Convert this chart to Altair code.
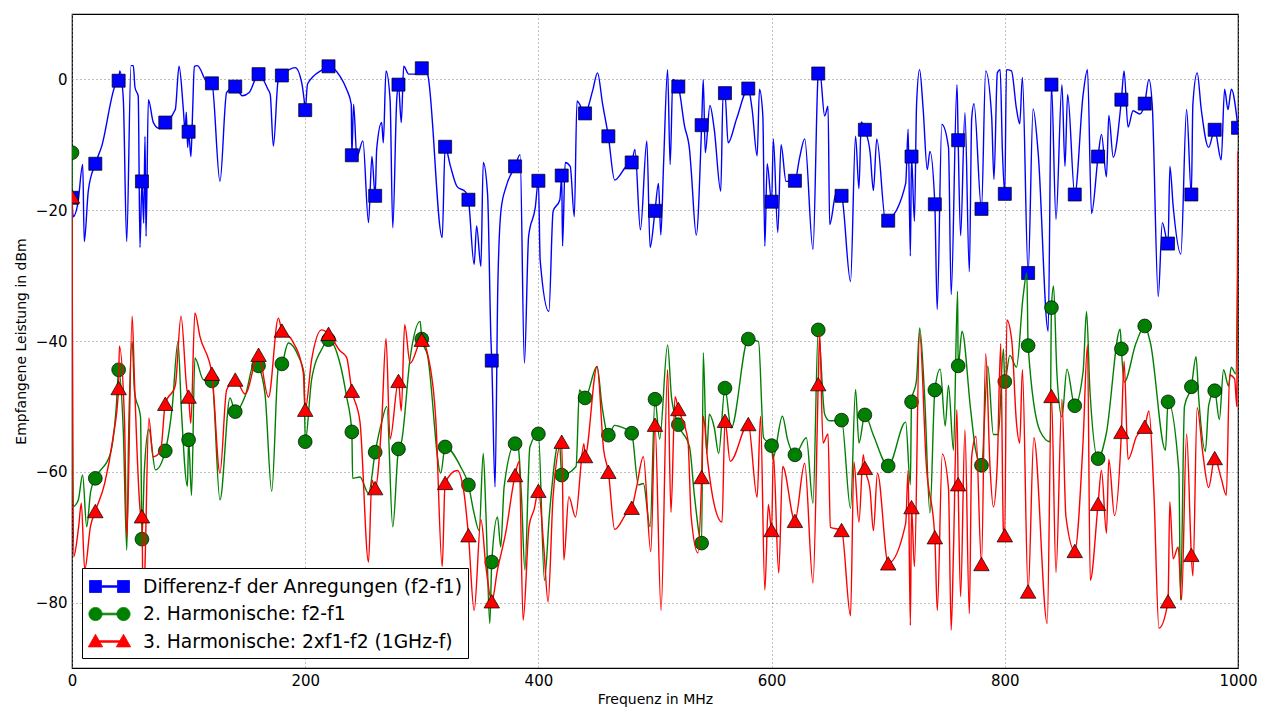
import altair as alt
import pandas as pd

SERIES = ["Differenz-f der Anregungen (f2-f1)", "2. Harmonische: f2-f1", "3. Harmonische: 2xf1-f2 (1GHz-f)"]
COLORS = ["#0000ff", "#008000", "#ff0000"]

MARK_F = [0, 20, 40, 60, 80, 100, 120, 140, 160, 180, 200, 220, 240, 260, 280, 300, 320, 340, 360, 380,
          400, 420, 440, 460, 480, 500, 520, 540, 560, 580, 600, 620, 640, 660, 680, 700, 720, 740, 760, 780,
          800, 820, 840, 860, 880, 900, 920, 940, 960, 980, 1000]

BLUE_M = [-18.1, -12.9, -0.2, -15.6, -6.6, -8.0, -0.6, -1.1, 0.8, 0.6,
          -4.7, 2.0, -11.6, -17.8, -0.8, 1.7, -10.3, -18.4, -43.0, -13.3,
          -15.5, -14.7, -5.2, -8.7, -12.7, -20.1, -1.1, -7.0, -2.1, -1.4,
          -18.7, -15.5, 0.9, -17.8, -7.7, -21.6, -11.8, -19.1, -9.3, -19.8,
          -17.5, -29.6, -0.8, -17.6, -11.8, -3.1, -3.7, -25.1, -17.6, -7.7, -7.4]

GREEN_M = [-11.2, -61.0, -44.4, -70.3, -56.8, -55.1, -46.1, -50.8, -43.8, -43.5,
           -55.4, -39.8, -53.9, -57.0, -56.5, -39.7, -56.2, -62.0, -73.8, -55.7,
           -54.2, -60.5, -48.7, -54.4, -54.1, -48.9, -52.8, -70.9, -47.2, -39.7,
           -56.0, -57.4, -38.3, -52.1, -51.3, -59.1, -49.3, -47.5, -43.8, -59.0,
           -46.2, -40.7, -34.9, -49.9, -58.0, -41.2, -37.7, -49.3, -47.0, -47.6]

RED_M = [-17.9, -66.0, -47.2, -66.8, -49.6, -48.5, -45.0, -45.9, -42.1, -38.4,
         -50.5, -38.9, -47.6, -62.5, -46.1, -39.8, -61.7, -69.7, -79.8, -60.5,
         -62.9, -55.4, -57.6, -60.0, -65.5, -52.8, -50.4, -60.8, -52.2, -52.7,
         -68.9, -67.5, -46.6, -68.9, -59.4, -74.0, -65.4, -70.0, -61.9, -74.1,
         -69.7, -78.3, -48.4, -72.1, -64.9, -53.9, -53.1, -79.8, -72.7, -57.9]

BLUE_LINE = [(1, -21), (5, -19), (9.2, -13.0), (10.5, -24.8), (14, -17), (25.5, -10.2), (36.9, -1.0), (41, 1.3),
             (44, -3), (46.9, -24.8), (50.6, 2.1), (52.6, 2.1), (54, -1.2), (56.8, -2.6), (58.3, -25.7),
             (61.5, -22), (62.6, -8.7), (63.5, -24), (65.5, -3.1), (69.8, -6.6), (75, -7.5), (88.6, -4.6),
             (91.8, 2.0), (95.5, -4.6), (97, -8), (98, -5), (99.2, -10.4), (102, -11.8), (103.5, -4.6),
             (104.9, 2.0), (107.5, 2.1), (115.4, -0.3), (126.9, -15.6), (132.6, -2.0), (146, -2.5), (152, -2.0),
             (168, -1.5), (170, -2.3), (172.7, -10.2), (176.9, 0.0), (191.5, 1.8), (197, -0.5), (199, -3),
             (202, -0.7), (215, 1.5), (229.8, 0.5), (235.5, -1.5), (239.5, -3.8), (241.5, -3.8), (244.3, -11.8),
             (249.5, -9.4), (254.3, -21.9), (257.2, -11.8), (261.3, -10.7), (265.6, -6.6), (267, -9.7),
             (269.3, 1.3), (272.8, -3.1), (275.1, -22.7), (278.5, -3.1), (282.4, -6.6), (284.5, 2.0),
             (288.8, 0.8), (295, 0.8), (304.9, 0.8), (317.5, -24.2), (324.6, -13.3), (330.3, -16.4),
             (337.5, -17.2), (344.9, -28.3), (347, -22.4), (350.7, -28.6), (352.7, -12.7), (356.4, -17.5),
             (359.3, -39.8), (362.8, -62.3), (365.2, -31.6), (368, -19.9), (372.3, -16.4), (384.3, -11.5),
             (388, -43.4), (391.6, -24), (397.3, -19.6), (401.5, -27.6), (409, -35.5), (412.6, -20.2),
             (418.4, -18.4), (420.7, -25.5), (423, -12.7), (427.3, -13.3), (430.8, -21), (433.1, -3.3),
             (446.4, -1.8), (450.7, 1.0), (455, -3.7), (465.4, -15.4), (475.4, -13.3), (482.8, -10.7),
             (487.5, -23), (493, -9.4), (495.8, -25.7), (503, -15.9), (505, -23.8), (507.4, -12.7),
             (510.8, 1.5), (513, -13), (515.3, 0), (525.3, -7.1), (529.6, -10.7), (531, -13.8), (535.4, -23.8),
             (541.4, 0.0), (543.1, -11.2), (547.1, -4), (550.8, -7.6), (556.4, -17.1), (558.4, -2.1),
             (562.7, -9.7), (570, -6), (583.3, -4.6), (587.6, -11.7), (589.6, -1.5), (592.5, -5.6),
             (594.2, -25.5), (596.2, -12.9), (601.5, -9.1), (605.3, -23.4), (608.1, -10), (612.4, -15.6),
             (624, -12), (628.4, -9.1), (635.5, -26), (641.2, 1.5), (645.5, -5.6), (648.4, -4.1), (649.8, -22.2),
             (655.5, -17.3), (667.7, -30.9), (672, -8.7), (674.9, -16.7), (676.9, -6.5), (684.5, -11.2),
             (687.3, -17), (690.2, -9.1), (697.9, -21.8), (715, -15.9), (717.1, -7.6), (719, -27),
             (722.5, -21.7), (724.3, -4), (726.9, 1.5), (730, -4.6), (733.5, -13.8), (735.8, -11), (742, -35.2),
             (746, -6.9), (751.7, -10.4), (754, -32.9), (759, -0.8), (762.1, -23.9), (765.8, -5.1),
             (769.6, -29.4), (771.6, -6), (773.6, -3.7), (783.6, 1.3), (788.7, -5.6), (790.7, -15.3),
             (793.6, 1.0), (796, 1.5), (798, -11.2), (801.4, 1.5), (805.7, 1.3), (810, -4.5), (812.8, -6.8),
             (815.1, 0.3), (824.3, -4.5), (828.6, -11.2), (837.2, -38.5), (843.9, -21.4), (849, -0.8),
             (851.6, -13.3), (853.9, -2.3), (867.2, -2.3), (870.9, 1.5), (874.4, -20.5), (882.9, -8.4),
             (887.2, -14.9), (889.2, -5.5), (893, -11.9), (902.3, 1.3), (905.7, -7.3), (910, -4.8),
             (915.7, -5.3), (923.6, 0), (926.5, -4.1), (931.6, -33.2), (935.1, -21.9), (941.6, -13.3),
             (944.4, -19.4), (951, -26.7), (955.9, -4.6), (961.3, -3.8), (965, 1.0), (968.5, -4.6),
             (974.8, -10.4), (985.6, -12.3), (988.5, -1.5), (991.4, -4.6), (994.3, -1.5)]

GREEN_LINE = [(0.5, -60), (1, -65.3), (5.4, -64.3), (9.1, -60.5), (12.6, -68.4), (16, -63), (32.6, -57.4),
              (38, -50), (44, -53.8), (47, -72), (48.5, -55), (51.6, -40.1), (53.6, -47.7), (58.8, -51.7),
              (62, -60), (65.9, -53.5), (71.6, -59.7), (86, -50), (90.9, -40.1), (93.8, -50.5), (99, -62.2),
              (102.5, -63.6), (105.4, -42.6), (112.6, -45.9), (126.9, -64.3), (135.5, -48.7), (148.5, -48.4),
              (157, -43), (165.6, -48.2), (171.3, -63.0), (177, -44), (185.5, -40.3), (194.1, -42.3),
              (199, -45), (205.5, -45.9), (215, -41), (229.8, -43.4), (235.5, -48.5), (240.7, -61),
              (247, -60.8), (254.3, -63.3), (265.6, -52.4), (270, -50), (275.1, -68.4), (282.7, -55.3),
              (290, -42.6), (298.6, -37), (304.9, -42.2), (316.3, -60.2), (333.2, -59.2), (344.9, -66.4),
              (349.2, -69), (352.7, -57.2), (355, -66.4), (358.3, -83.2), (364.9, -66.9), (367.7, -71.5),
              (370.6, -62.3), (382.7, -56.2), (385.5, -63.8), (388.4, -75), (392.7, -56.2), (405.2, -76.6),
              (409.5, -66.4), (418, -55.2), (432.3, -59.2), (435.2, -47.5), (450.3, -43.9), (454.6, -50),
              (465.4, -52.9), (470, -53.1), (485.7, -62), (490, -61.8), (495.8, -68.4), (504, -55),
              (510.8, -40.6), (514.2, -48.7), (529.6, -56.2), (533.9, -63.8), (541.4, -41.8), (544.3, -57.2),
              (546.6, -51.2), (550.9, -53.3), (554.6, -57.2), (565.3, -53.3), (588.8, -40.1), (593.1, -54.8),
              (601, -58), (609.3, -51.5), (613.6, -55), (629.8, -54.8), (635.5, -64.8), (645.5, -51.2),
              (649.8, -52.2), (667.7, -65.6), (672, -47.4), (674.9, -55.6), (687.3, -54.4), (715, -52.4),
              (719, -62), (724.3, -45.9), (727, -38), (731.3, -48.7), (735.8, -66.3), (744.6, -44.3),
              (748.9, -53), (751.7, -46.8), (756, -56.7), (759.5, -32.4), (763.3, -38.5), (770.7, -50.5),
              (775, -56.7), (785.4, -43.8), (790.2, -54.3), (794.5, -54.3), (798.8, -41.2), (804.3, -42.2),
              (810, -44), (815.7, -33.2), (818.9, -29.6), (830.3, -53.8), (838.9, -55.4), (841.8, -31.6),
              (844.7, -45), (849, -51.6), (853.3, -44.3), (867.2, -44.6), (870.1, -35.5), (873, -47.5),
              (886.9, -54.3), (899, -38.2), (902.4, -46.3), (912.4, -40.4), (924.9, -40.3), (937.8, -56.7),
              (949.3, -60), (950.7, -79.6), (954.1, -50), (964, -42.4), (966.3, -48.7), (972, -56.9),
              (974.9, -49.8), (984, -52), (987.6, -44.4), (991.9, -46.9), (994.2, -44), (998, -45), (1000, -26)]

RED_LINE = [(1.4, -73), (5.7, -68.4), (8, -64.8), (10.9, -75), (15.8, -68.4), (28, -61.8), (35, -55),
            (40.6, -40.8), (45, -52), (47, -70), (51.6, -36.2), (53.6, -46.3), (58.8, -66.3), (61, -82),
            (62.5, -75), (65.9, -51.8), (69.6, -57.7), (76, -56.8), (88.6, -46.8), (93.5, -36.2), (98.6, -47.5),
            (101.9, -52.6), (105.4, -35.7), (109.7, -39.3), (126.9, -60.2), (132.6, -47.5), (148.5, -48.1),
            (168.5, -48.6), (177, -36.5), (188.4, -39.8), (198.4, -44.9), (205.5, -42.9), (214.1, -38.3),
            (229.8, -41.5), (235.5, -42.5), (247, -52.4), (254.3, -73.8), (257.2, -61.3), (265.6, -52.4),
            (269.3, -39.6), (272.8, -55), (282.4, -50.7), (285.3, -37.5), (290, -43.4), (305, -42), (312, -52),
            (317.5, -74.5), (330.3, -59.8), (336, -63), (344.9, -81.2), (350.7, -67.3), (355, -74.5),
            (364.9, -75), (372, -69.3), (383.5, -58.4), (386.9, -82.7), (392, -68.3), (396.4, -65.7),
            (404.6, -71.4), (408.3, -79.9), (412.6, -63.8), (421.8, -73.5), (426.1, -63.8), (431.8, -66.9),
            (439, -55.7), (450.3, -43.9), (456, -56.7), (465.4, -68.8), (475.4, -66.4), (484, -62.5),
            (490, -57.7), (496.4, -72.2), (505.2, -81.2), (510.8, -44.4), (513.7, -66.2), (517.2, -48.5),
            (528.2, -55.1), (531, -66.8), (536.8, -72.4), (541.4, -51.5), (545.2, -58.4), (550.9, -65.1),
            (557.5, -67.7), (564.5, -58.4), (587.6, -63.9), (590.5, -51.5), (594.2, -78.1), (597.2, -65),
            (601.5, -57.2), (606.1, -75.5), (609.5, -59.2), (628.4, -58.7), (635.5, -77), (641.2, -38.8),
            (644.1, -55.6), (648.4, -54.2), (650.4, -68.5), (667.7, -82), (670.6, -58.5), (674.9, -67.7),
            (678.6, -57.4), (684.5, -62.9), (687.3, -69), (690.8, -60.2), (715, -67.9), (717.1, -59.8),
            (719, -83.5), (722.5, -74.5), (726.9, -38.8), (732.7, -59), (742.1, -81.2), (746.4, -57.3),
            (751.7, -62.5), (754, -84.2), (756, -72), (758.9, -50.5), (762.1, -79.1), (765.8, -53.6),
            (769.6, -81.7), (771.6, -57.7), (775.3, -54.6), (783.6, -41.9), (787.3, -59.2), (790.2, -65.4),
            (793.6, -58.6), (796.5, -40.4), (798.8, -68.9), (801.7, -36.8), (806, -40), (810, -52.5),
            (812.8, -55.6), (815.1, -44.4), (824.9, -54.8), (836.4, -83.2), (843.9, -75.4), (849, -48.9),
            (852.4, -66.8), (867.2, -55.1), (870.9, -40.6), (873.3, -76.6), (882.9, -59.8), (887.2, -69.4),
            (889.2, -58.1), (894.1, -66.7), (902.3, -43.1), (905.7, -58.1), (912.9, -54.6), (923.6, -50.7),
            (927.9, -63.4), (932.2, -83.9), (941.5, -64.6), (944.4, -73.3), (948.7, -71.5), (951.6, -79.6),
            (955.9, -54.2), (961.3, -75.9), (965, -50.2), (969.9, -57.3), (974.8, -62.4), (985.6, -61),
            (990, -63.6), (992.8, -45.2), (997.1, -45.8), (999, -50), (1000, -11)]


def line_df(name, pts, marks):
    d = {float(f): v for f, v in pts}
    for f, v in zip(MARK_F, marks):
        d[float(f)] = v
    rows = sorted(d.items())
    return pd.DataFrame({"f": [r[0] for r in rows], "v": [r[1] for r in rows], "series": name})


def mark_df(name, marks):
    return pd.DataFrame({"f": MARK_F[:len(marks)], "v": marks, "series": name})


# legend symbols: marker - line - marker (unit = 12 px)
P_SQ = "M-0.917,-0.5H0.083V-0.07H1.417V-0.5H2.417V0.5H1.417V0.07H0.083V0.5H-0.917Z"
P_CI = ("M-0.967,0A0.55,0.55,0,1,1,0.133,0A0.55,0.55,0,1,1,-0.967,0Z"
        "M1.367,0A0.55,0.55,0,1,1,2.467,0A0.55,0.55,0,1,1,1.367,0Z"
        "M0.1,-0.07H1.4V0.07H0.1Z")
P_TR = ("M-1.017,0.45L-0.417,-0.6L0.183,0.45Z"
        "M1.317,0.45L1.917,-0.6L2.517,0.45Z"
        "M-0.1,-0.07H1.6V0.07H-0.1Z")
shape_expr = "datum.value == '%s' ? '%s' : (datum.value == '%s' ? '%s' : '%s')" % (
    SERIES[0], P_SQ, SERIES[1], P_CI, P_TR)
color_expr = "datum.value == '%s' ? '%s' : (datum.value == '%s' ? '%s' : '%s')" % (
    SERIES[0], COLORS[0], SERIES[1], COLORS[1], COLORS[2])

legend = alt.Legend(
    title=None, orient="bottom-left", offset=10, padding=6, rowPadding=4.5,
    symbolSize=576, labelFontSize=18.7, labelFont="DejaVu Sans", labelColor="black",
    labelOffset=30, labelLimit=1000, strokeColor="black", fillColor="white",
    cornerRadius=0,
    symbolType=alt.ExprRef(expr=shape_expr),
    symbolFillColor=alt.ExprRef(expr=color_expr),
    symbolStrokeColor=alt.ExprRef(expr=color_expr),
    symbolStrokeWidth=0.8, symbolOpacity=1,
)

xs = alt.X("f:Q", scale=alt.Scale(domain=[0, 1000], nice=False),
           axis=alt.Axis(title="Frequenz in MHz", values=[0, 200, 400, 600, 800, 1000],
                         format="d", labelPadding=5, titlePadding=4, labelFlush=False))
ys = alt.Y("v:Q", scale=alt.Scale(domain=[-90, 10], nice=False),
           axis=alt.Axis(title="Empfangene Leistung in dBm", values=[-80, -60, -40, -20, 0],
                         labelPadding=5, titlePadding=7, labelFlush=False))
col = alt.Color("series:N", scale=alt.Scale(domain=SERIES, range=COLORS), legend=legend)

SHAPES = ["square", "circle", "triangle-up"]
SIZES = [170, 190, 240]
layers = []
for name, pts, marks, shape, size, color in zip(
        SERIES, [BLUE_LINE, GREEN_LINE, RED_LINE], [BLUE_M, GREEN_M, RED_M], SHAPES, SIZES, COLORS):
    ln = alt.Chart(line_df(name, pts, marks)).mark_line(
        strokeWidth=1.4, clip=True, interpolate="monotone").encode(
        x=xs, y=ys, color=col, order="f:Q")
    pt = alt.Chart(mark_df(name, marks)).mark_point(
        shape=shape, filled=True, size=size, fill=color, stroke="black",
        strokeWidth=0.7, opacity=1, clip=True).encode(x=xs, y=ys)
    layers += [ln, pt]

chart = alt.layer(*layers).properties(
    width=1166, height=654,
    padding={"left": 64, "top": 6, "right": 19, "bottom": 39},
    autosize=alt.AutoSizeParams(type="none"),
).configure(background="white").configure_view(
    stroke="black", strokeWidth=1.2
).configure_axis(
    domain=False, grid=True, gridColor="#7f7f7f", gridDash=[1, 3], gridWidth=1,
    ticks=False, labelFont="DejaVu Sans", labelFontSize=15, labelColor="black",
    titleFont="DejaVu Sans", titleFontSize=14, titleFontWeight="normal", titleColor="black",
)

chart.save("out.html", embed_options={"renderer": "svg", "actions": False})
